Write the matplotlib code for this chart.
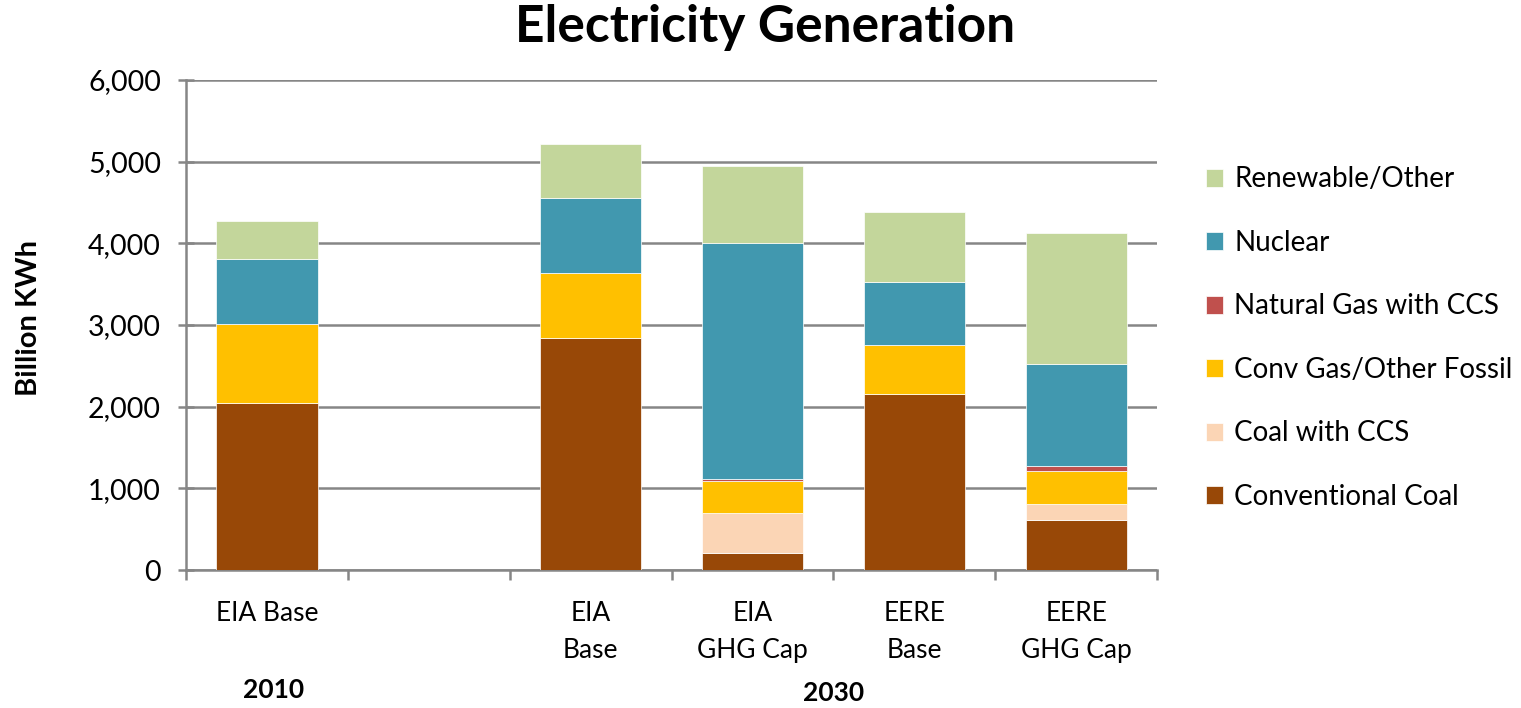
#!/usr/bin/env python3
"""
Electricity Generation - stacked bars, 2010 vs 2030 scenarios
"""

import numpy as np
import matplotlib
matplotlib.use("Agg")
import matplotlib.pyplot as plt

plt.rcParams['font.family'] = ['Lato', 'DejaVu Sans']

# Data (Billion KWh), slot 1 is an empty spacer between 2010 and 2030
categories = ['EIA Base', '', 'EIA\nBase', 'EIA\nGHG Cap', 'EERE\nBase', 'EERE\nGHG Cap']
conventional_coal = [2040, 0, 2840, 210, 2150, 610]
coal_ccs = [0, 0, 0, 490, 0, 200]
conv_gas = [970, 0, 800, 395, 610, 400]
gas_ccs = [0, 0, 0, 25, 0, 60]
nuclear = [800, 0, 915, 2890, 765, 1255]
renewable = [460, 0, 660, 940, 860, 1600]

series_names = ['Conventional Coal', 'Coal with CCS', 'Conv Gas/Other Fossil',
                'Natural Gas with CCS', 'Nuclear', 'Renewable/Other']
series_values = [conventional_coal, coal_ccs, conv_gas, gas_ccs, nuclear, renewable]
colors = ['#984807', '#FBD5B5', '#FFC000', '#C0504D', '#4198AF', '#C3D69B']

year_labels = ['2010', '2030']

grey = '#868686'

fig = plt.figure(figsize=(15.21, 7.08), dpi=100)
ax = fig.add_axes([0.1223, 0.1949, 0.6384, 0.6921])

x = np.arange(len(categories))
bottom = np.zeros(len(categories))
for name, vals, col in zip(series_names, series_values, colors):
    vals = np.array(vals, dtype=float)
    ax.bar(x, vals, width=0.625, bottom=bottom, color=col, label=name,
           edgecolor='white', linewidth=0.5, zorder=3)
    bottom += vals

ax.set_xlim(-0.5, len(categories) - 0.5)
ax.set_ylim(0, 6000)
ax.set_yticks(np.arange(0, 6001, 1000))
ax.set_yticklabels([f'{v:,}' for v in range(0, 6001, 1000)], fontsize=20.5)
ax.yaxis.grid(True, color=grey, linewidth=1.8, zorder=0)

# category boundaries as major ticks, labels on minor ticks
ax.set_xticks(np.arange(-0.5, len(categories), 1.0))
ax.set_xticklabels([])
ax.set_xticks(x, minor=True)
ax.set_xticklabels(categories, minor=True, fontsize=19, linespacing=1.6)
ax.tick_params(axis='x', which='major', direction='out', length=7, width=1.8, color=grey)
ax.tick_params(axis='x', which='minor', length=0, pad=22)
ax.tick_params(axis='y', direction='inout', length=12, width=1.8, color=grey, pad=12)

for s in ['top', 'right']:
    ax.spines[s].set_visible(False)
for s in ['left', 'bottom']:
    ax.spines[s].set_color(grey)
    ax.spines[s].set_linewidth(1.8)

ax.set_ylabel('Billion KWh', fontsize=21, fontweight='bold')
ax.yaxis.set_label_coords(-0.148, 0.514)
fig.suptitle('Electricity Generation', fontsize=37, fontweight='bold', x=0.503, y=0.995, va='top')

# year group labels
ax.text(0.04, -0.244, year_labels[0], transform=ax.get_xaxis_transform(),
        ha='center', va='center', fontsize=19, fontweight='bold')
ax.text(3.5, -0.252, year_labels[1], transform=ax.get_xaxis_transform(),
        ha='center', va='center', fontsize=19, fontweight='bold')

handles, labels = ax.get_legend_handles_labels()
leg = ax.legend(handles[::-1], labels[::-1], loc='upper left',
                bbox_to_anchor=(0.793, 0.765), bbox_transform=fig.transFigure,
                frameon=False, fontsize=20, labelspacing=1.35,
                handlelength=0.62, handleheight=0.62, handletextpad=0.4,
                borderaxespad=0, borderpad=0)

plt.savefig('out.png', dpi=100)
plt.close()
